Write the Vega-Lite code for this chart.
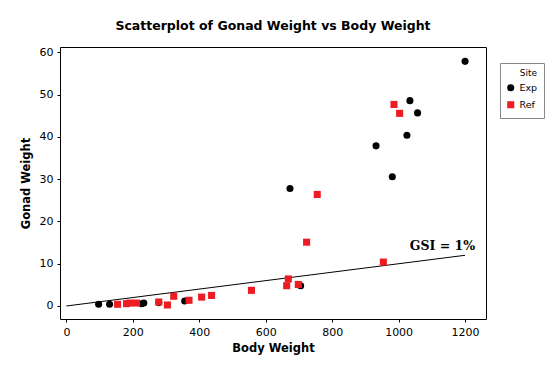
{
  "$schema": "https://vega.github.io/schema/vega-lite/v6.json",
  "autosize": {"type": "none"},
  "width": 426,
  "height": 272,
  "padding": {"left": 60, "top": 47, "right": 71, "bottom": 52},
  "background": "white",
  "title": {
    "text": "Scatterplot of Gonad Weight vs Body Weight",
    "font": "DejaVu Sans",
    "fontSize": 12.5,
    "fontWeight": "bold",
    "color": "black",
    "offset": 14,
    "anchor": "middle"
  },
  "datasets": {
    "fish": [
      {"Site": "Exp", "Body": 97, "Gonad": 0.4},
      {"Site": "Exp", "Body": 130, "Gonad": 0.4},
      {"Site": "Exp", "Body": 226, "Gonad": 0.55},
      {"Site": "Exp", "Body": 233, "Gonad": 0.7},
      {"Site": "Exp", "Body": 278, "Gonad": 0.8},
      {"Site": "Exp", "Body": 356, "Gonad": 1.2},
      {"Site": "Exp", "Body": 673, "Gonad": 27.8},
      {"Site": "Exp", "Body": 705, "Gonad": 4.8},
      {"Site": "Exp", "Body": 932, "Gonad": 37.9},
      {"Site": "Exp", "Body": 981, "Gonad": 30.6},
      {"Site": "Exp", "Body": 1025, "Gonad": 40.4},
      {"Site": "Exp", "Body": 1034, "Gonad": 48.6},
      {"Site": "Exp", "Body": 1057, "Gonad": 45.7},
      {"Site": "Exp", "Body": 1200, "Gonad": 57.9},
      {"Site": "Ref", "Body": 154, "Gonad": 0.4},
      {"Site": "Ref", "Body": 181, "Gonad": 0.55},
      {"Site": "Ref", "Body": 191, "Gonad": 0.7},
      {"Site": "Ref", "Body": 211, "Gonad": 0.7},
      {"Site": "Ref", "Body": 278, "Gonad": 0.95},
      {"Site": "Ref", "Body": 304, "Gonad": 0.24},
      {"Site": "Ref", "Body": 323, "Gonad": 2.3},
      {"Site": "Ref", "Body": 369, "Gonad": 1.35},
      {"Site": "Ref", "Body": 407, "Gonad": 2.1},
      {"Site": "Ref", "Body": 437, "Gonad": 2.5},
      {"Site": "Ref", "Body": 557, "Gonad": 3.7},
      {"Site": "Ref", "Body": 663, "Gonad": 4.8},
      {"Site": "Ref", "Body": 668, "Gonad": 6.4},
      {"Site": "Ref", "Body": 698, "Gonad": 5.1},
      {"Site": "Ref", "Body": 723, "Gonad": 15.1},
      {"Site": "Ref", "Body": 755, "Gonad": 26.4},
      {"Site": "Ref", "Body": 954, "Gonad": 10.4},
      {"Site": "Ref", "Body": 986, "Gonad": 47.7},
      {"Site": "Ref", "Body": 1003, "Gonad": 45.6}
    ],
    "gsi": [
      {"Body": 0, "Gonad": 0},
      {"Body": 1200, "Gonad": 12, "label": "GSI = 1%"}
    ]
  },
  "layer": [
    {
      "data": {"name": "gsi"},
      "mark": {"type": "line", "color": "black", "strokeWidth": 1},
      "encoding": {
        "x": {"field": "Body", "type": "quantitative"},
        "y": {"field": "Gonad", "type": "quantitative"}
      }
    },
    {
      "data": {"name": "gsi"},
      "transform": [{"filter": "datum.label != null"}],
      "mark": {"type": "text", "font": "DejaVu Serif", "fontWeight": "bold", "fontSize": 12.5, "align": "right", "baseline": "bottom", "dx": 10, "dy": -2, "color": "black"},
      "encoding": {
        "x": {"field": "Body", "type": "quantitative"},
        "y": {"field": "Gonad", "type": "quantitative"},
        "text": {"field": "label"}
      }
    },
    {
      "data": {"name": "fish"},
      "mark": {"type": "point", "filled": true, "opacity": 1, "size": 50},
      "encoding": {
        "x": {
          "field": "Body", "type": "quantitative",
          "scale": {"domain": [-19.3, 1263], "nice": false, "zero": false},
          "axis": {"title": "Body Weight", "format": "d", "values": [0, 200, 400, 600, 800, 1000, 1200]}
        },
        "y": {
          "field": "Gonad", "type": "quantitative",
          "scale": {"domain": [-3.08, 61.3], "nice": false, "zero": false},
          "axis": {"title": "Gonad Weight", "format": "d", "values": [0, 10, 20, 30, 40, 50, 60]}
        },
        "color": {
          "field": "Site", "type": "nominal",
          "scale": {"domain": ["Exp", "Ref"], "range": ["#000000", "#ED1C24"]},
          "legend": {"title": "Site"}
        },
        "shape": {
          "field": "Site", "type": "nominal",
          "scale": {"domain": ["Exp", "Ref"], "range": ["circle", "square"]},
          "legend": {"title": "Site"}
        }
      }
    }
  ],
  "config": {
    "view": {"stroke": "black", "strokeWidth": 1},
    "axis": {
      "domain": false,
      "grid": false,
      "ticks": true,
      "tickSize": 3,
      "tickColor": "black",
      "labelFont": "DejaVu Sans",
      "labelFontSize": 11,
      "labelColor": "black",
      "labelPadding": 4,
      "titleFont": "DejaVu Sans",
      "titleFontSize": 11.5,
      "titleFontWeight": "bold",
      "titleColor": "black"
    },
    "axisX": {"titlePadding": 5},
    "axisY": {"titlePadding": 8},
    "legend": {
      "orient": "none",
      "legendX": 440,
      "legendY": 16,
      "strokeColor": "#888888",
      "fillColor": "white",
      "padding": 6,
      "titleFont": "DejaVu Sans",
      "titleFontSize": 9,
      "titleFontWeight": "normal",
      "titleColor": "black",
      "titleAnchor": "end",
      "labelFont": "DejaVu Sans",
      "labelFontSize": 9.5,
      "labelColor": "black",
      "symbolSize": 50,
      "rowPadding": 3,
      "symbolOpacity": 1
    }
  }
}
